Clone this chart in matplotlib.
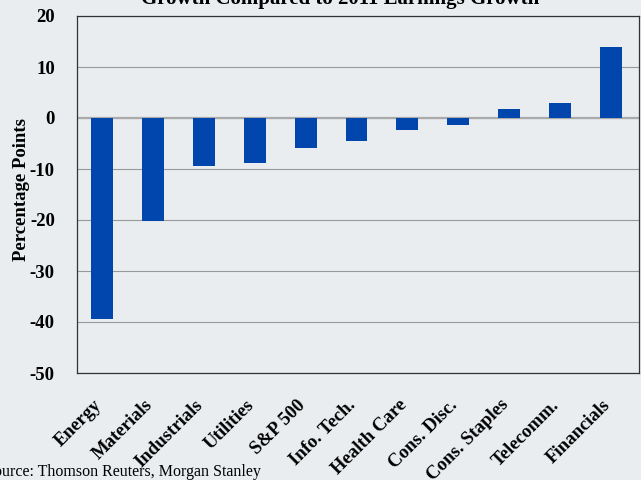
import matplotlib.pyplot as plt
import matplotlib.transforms as mtransforms

sectors = ['Energy', 'Materials', 'Industrials', 'Utilities', 'S&P 500', 'Info. Tech.',
           'Health Care', 'Cons. Disc.', 'Cons. Staples', 'Telecomm.', 'Financials']
values = [-39.4, -20.1, -9.4, -8.9, -5.8, -4.5, -2.3, -1.3, 1.8, 2.9, 13.9]

bg = '#E9EDF0'
plt.rcParams['font.family'] = ['Liberation Serif', 'DejaVu Serif']
plt.rcParams['axes.unicode_minus'] = False

fig = plt.figure(figsize=(6.41, 4.8), dpi=100, facecolor=bg)
ax = fig.add_axes([77 / 641, (480 - 373) / 480, (639 - 77) / 641, (373 - 16) / 480])
ax.set_facecolor(bg)

x = range(len(sectors))
ax.bar(x, values, width=0.43, color='#0046AD', zorder=3)

ax.set_ylim(-50, 20)
ax.set_xlim(-0.49, len(sectors) - 0.45)
ax.set_yticks(range(-50, 21, 10))
ax.yaxis.grid(True, color='#999999', linewidth=0.8, zorder=0)
ax.axhline(0, color='#AAAAAA', linewidth=1.6, zorder=2)
ax.tick_params(length=0)
ax.tick_params(axis='y', pad=16)
for lbl in ax.get_yticklabels():
    lbl.set_fontweight('bold')
    lbl.set_fontsize(13.5)

ax.set_xticks(list(x))
ax.set_xticklabels(sectors, rotation=45, ha='right', rotation_mode='anchor',
                   fontweight='bold', fontsize=13.5)
ax.tick_params(axis='x', pad=14)
shift = mtransforms.ScaledTranslation(-0.09, -0.04, fig.dpi_scale_trans)
for lbl in ax.get_xticklabels():
    lbl.set_transform(lbl.get_transform() + shift)

for s in ax.spines.values():
    s.set_color('#333333')
    s.set_linewidth(0.9)

fig.text(22 / 641, 1 - 190 / 480, 'Percentage Points', rotation=90,
         ha='center', va='center', fontweight='bold', fontsize=13.5)

fig.text(0.53, 1 - 4 / 480, 'Growth Compared to 2011 Earnings Growth',
         ha='center', va='baseline', fontweight='bold', fontsize=15)
fig.text(-15 / 641, 4 / 480, 'Source: Thomson Reuters, Morgan Stanley',
         ha='left', va='baseline', fontsize=11.5)

fig.savefig('out.png', dpi=100, facecolor=bg)
